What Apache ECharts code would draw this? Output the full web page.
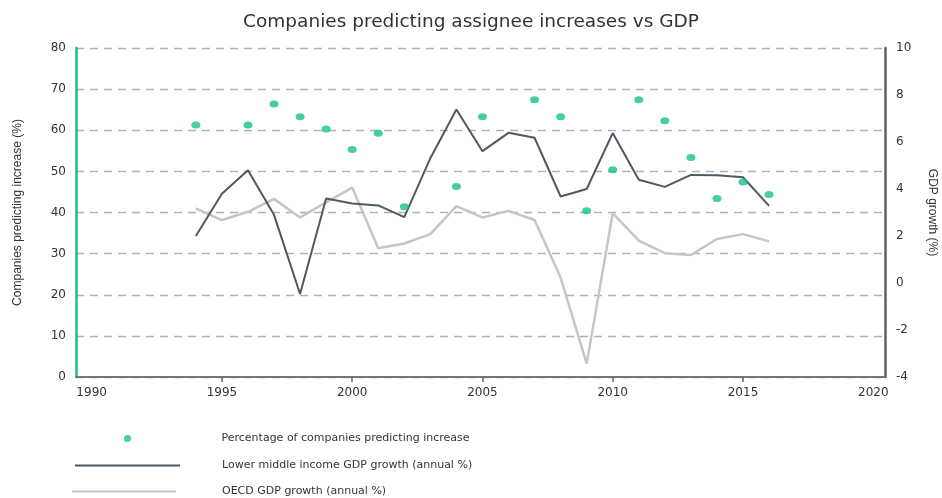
<!DOCTYPE html>
<html>
<head>
<meta charset="utf-8">
<title>Companies predicting assignee increases vs GDP</title>
<script src="https://cdn.jsdelivr.net/npm/echarts@6/dist/echarts.min.js"></script>
<style>
  html, body { margin: 0; padding: 0; background: #ffffff; }
  #chart { width: 942px; height: 498px; }
</style>
</head>
<body>
<div id="chart"></div>
<script>
// Survey years with a reading of companies predicting an increase in assignees
const surveyYears = [1994, 1996, 1997, 1998, 1999, 2000, 2001, 2002, 2004, 2005,
                     2007, 2008, 2009, 2010, 2011, 2012, 2013, 2014, 2015, 2016];
const pctPredictingIncrease = [61.3, 61.3, 66.4, 63.3, 60.3, 55.3, 59.3, 41.4, 46.3, 63.3,
                               67.4, 63.3, 40.4, 50.4, 67.4, 62.3, 53.4, 43.4, 47.4, 44.4];

// Annual GDP growth, 1994-2016
const gdpYears = [1994, 1995, 1996, 1997, 1998, 1999, 2000, 2001, 2002, 2003, 2004, 2005,
                  2006, 2007, 2008, 2009, 2010, 2011, 2012, 2013, 2014, 2015, 2016];
const lowerMiddleGdp = [2.0, 3.8, 4.8, 2.9, -0.47, 3.6, 3.38, 3.3, 2.8, 5.31, 7.38, 5.61,
                        6.39, 6.18, 3.68, 4.0, 6.38, 4.39, 4.09, 4.6, 4.58, 4.5, 3.28];
const oecdGdp = [3.17, 2.68, 3.03, 3.58, 2.79, 3.43, 4.06, 1.48, 1.68, 2.08, 3.27, 2.79,
                 3.07, 2.68, 0.23, -3.43, 2.97, 1.8, 1.27, 1.19, 1.87, 2.08, 1.77];

const yearLabels = [1990, 1995, 2000, 2005, 2010, 2015, 2020];
const yearTicks = [1995, 2000, 2005, 2010, 2015];

const names = {
  pct: 'Percentage of companies predicting increase',
  lmi: 'Lower middle income GDP growth (annual %)',
  oecd: 'OECD GDP growth (annual %)'
};

const pair = (xs, ys) => xs.map((x, i) => [x, ys[i]]);

const FONT = 'DejaVu Sans';
const NARROW = "'Liberation Sans Narrow', 'Liberation Sans', sans-serif";
const chart = echarts.init(document.getElementById('chart'), null, { renderer: 'canvas' });

const legendText = (pad) => ({
  fontFamily: FONT, fontSize: 11, color: '#333333', padding: [0, 0, 0, pad]
});

chart.setOption({
  animation: false,
  backgroundColor: '#ffffff',
  title: {
    text: 'Companies predicting assignee increases vs GDP',
    left: 'center',
    top: 8,
    textStyle: { fontFamily: FONT, fontSize: 18.5, fontWeight: 'normal', color: '#333333' }
  },
  grid: { left: 76, right: 57, top: 48, bottom: 121, containLabel: false, outerBoundsMode: 'none' },
  legend: [
    {
      data: [{ name: names.pct, icon: 'circle' }],
      left: 124, top: 433, padding: 0, itemWidth: 8, itemHeight: 7,
      selectedMode: false, textStyle: legendText(85)
    },
    {
      data: [{ name: names.lmi, icon: 'rect' }],
      left: 75, top: 460, padding: 0, itemWidth: 105, itemHeight: 2,
      selectedMode: false, textStyle: legendText(37)
    },
    {
      data: [{ name: names.oecd, icon: 'rect' }],
      left: 72, top: 486, padding: 0, itemWidth: 104, itemHeight: 2,
      selectedMode: false, textStyle: legendText(41)
    }
  ],
  xAxis: {
    type: 'value',
    min: 1989.4,
    max: 2020.45,
    axisLine: { show: true, lineStyle: { color: '#6f777e', width: 2 } },
    axisTick: {
      show: true, customValues: yearTicks, length: 5, inside: false,
      lineStyle: { color: '#5a636b', width: 1.5 }
    },
    axisLabel: {
      customValues: yearLabels, margin: 10,
      fontFamily: FONT, fontSize: 12, color: '#333333',
      formatter: (v) => String(v)
    },
    splitLine: { show: false }
  },
  yAxis: [
    {
      type: 'value',
      min: 0, max: 80, interval: 10,
      position: 'left',
      name: 'Companies predicting increase (%)',
      nameLocation: 'middle',
      nameRotate: 90,
      nameGap: 52,
      nameTextStyle: { fontFamily: NARROW, fontSize: 12, color: '#333333' },
      axisLine: { show: true, lineStyle: { color: '#17c08c', width: 2.5 } },
      axisTick: { show: false },
      axisLabel: { margin: 10, fontFamily: FONT, fontSize: 12, color: '#333333' },
      splitLine: { show: true, lineStyle: { color: '#adb2b8', width: 1.3, type: [8, 6] } }
    },
    {
      type: 'value',
      min: -4, max: 10, interval: 2,
      position: 'right',
      name: 'GDP growth (%)',
      nameLocation: 'middle',
      nameRotate: -90,
      nameGap: 41,
      nameTextStyle: { fontFamily: NARROW, fontSize: 12, color: '#333333' },
      axisLine: { show: true, lineStyle: { color: '#5a636b', width: 2.5 } },
      axisTick: { show: false },
      axisLabel: { margin: 11, fontFamily: FONT, fontSize: 12, color: '#333333' },
      splitLine: { show: false }
    }
  ],
  series: [
    {
      name: names.oecd,
      type: 'line',
      yAxisIndex: 1,
      data: pair(gdpYears, oecdGdp),
      symbol: 'none',
      itemStyle: { color: '#c6c6c6' },
      lineStyle: { color: '#c6c6c6', width: 2.5 },
      z: 2
    },
    {
      name: names.lmi,
      type: 'line',
      yAxisIndex: 1,
      data: pair(gdpYears, lowerMiddleGdp),
      symbol: 'none',
      itemStyle: { color: '#4f5962' },
      lineStyle: { color: '#4f5962', width: 2 },
      z: 3
    },
    {
      name: names.pct,
      type: 'scatter',
      yAxisIndex: 0,
      data: pair(surveyYears, pctPredictingIncrease),
      symbol: 'circle',
      symbolSize: [9, 7],
      itemStyle: { color: '#17c08c' },
      z: 4
    }
  ]
});
</script>
</body>
</html>
